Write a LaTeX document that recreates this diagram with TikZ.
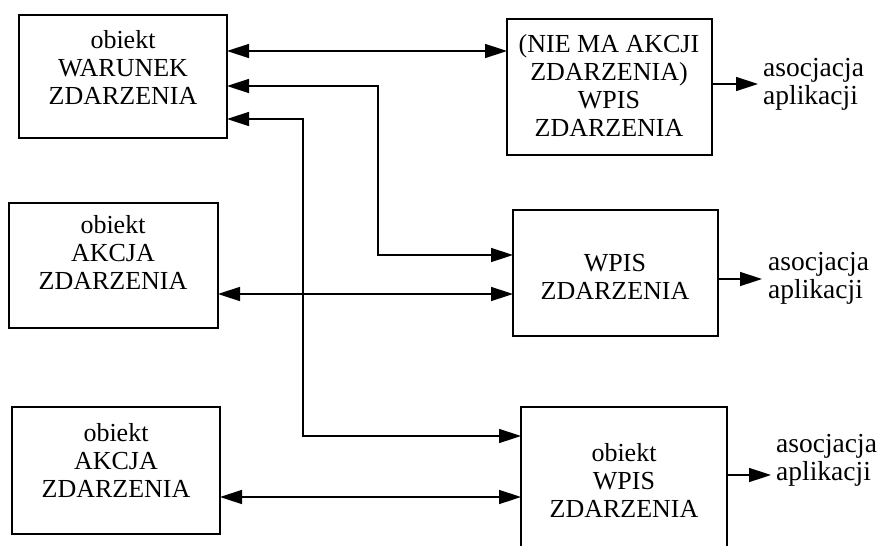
\documentclass[tikz,border=0pt]{standalone}
\usepackage{fontspec}
\setmainfont{Liberation Serif}
\usetikzlibrary{arrows.meta}
\begin{document}
\begin{tikzpicture}[x=1pt,y=-1pt,
  box/.style={draw,line width=1.8pt,anchor=north west,inner sep=0pt,outer sep=0pt},
  txt/.style={align=center,font=\fontsize{26pt}{28pt}\selectfont,inner sep=0pt},
  lbl/.style={align=left,anchor=west,font=\fontsize{27.5pt}{28pt}\selectfont,inner sep=0pt},
  conn/.style={line width=1.5pt},
  tip/.style={-{Triangle[length=22pt,width=14pt]}},
  both/.style={{Triangle[length=22pt,width=14pt]}-{Triangle[length=22pt,width=14pt]}}]
\useasboundingbox (0,0) rectangle (886,546);
\clip (0,0) rectangle (886,546);
% boxes
\node[box,minimum width=208pt,minimum height=123pt] (A) at (19,15) {};
\node[box,minimum width=205pt,minimum height=136pt] (B) at (507,19) {};
\node[box,minimum width=209pt,minimum height=125pt] (C) at (9,203) {};
\node[box,minimum width=205pt,minimum height=126pt] (D) at (513,210) {};
\node[box,minimum width=208pt,minimum height=127pt] (E) at (12,407) {};
\node[box,minimum width=206pt,minimum height=148pt] (F) at (521,407) {};
% texts
\node[txt] (At) at (123,68) {obiekt\\WARUNEK\\ZDARZENIA};
\node[txt] (Bt) at (609,86) {(NIE MA AKCJI\\ZDARZENIA)\\WPIS\\ZDARZENIA};
\node[txt] (Ct) at (113,253) {obiekt\\AKCJA\\ZDARZENIA};
\node[txt] (Dt) at (615,277) {WPIS\\ZDARZENIA};
\node[txt] (Et) at (116,460) {obiekt\\AKCJA\\ZDARZENIA};
\node[txt] (Ft) at (624,480) {obiekt\\WPIS\\ZDARZENIA};
% labels
\node[lbl] (LB) at (763,84) {asocjacja\\aplikacji};
\node[lbl] (LD) at (768,278) {asocjacja\\aplikacji};
\node[lbl] (LF) at (776,460) {asocjacja\\aplikacji};
% helper coordinates
\coordinate (h1) at (0,51);
\coordinate (h2) at (0,86);
\coordinate (h3) at (0,119);
\coordinate (h4) at (0,294);
\coordinate (h5) at (0,497);
\coordinate (v1) at (378,255);
\coordinate (v2) at (303,436);
\coordinate (o1) at (758,84);
\coordinate (o2) at (762,279);
\coordinate (o3) at (771,475);
% connectors
\draw[conn,both] (A.east |- h1) -- (B.west |- h1);
\draw[conn,both] (A.east |- h2) -- (v1 |- h2) -- (v1) -- (D.west |- v1);
\draw[conn,both] (A.east |- h3) -- (v2 |- h3) -- (v2) -- (F.west |- v2);
\draw[conn,both] (C.east |- h4) -- (D.west |- h4);
\draw[conn,both] (E.east |- h5) -- (F.west |- h5);
\draw[conn,tip] (B.east |- o1) -- (o1);
\draw[conn,tip] (D.east |- o2) -- (o2);
\draw[conn,tip] (F.east |- o3) -- (o3);
\end{tikzpicture}
\end{document}
